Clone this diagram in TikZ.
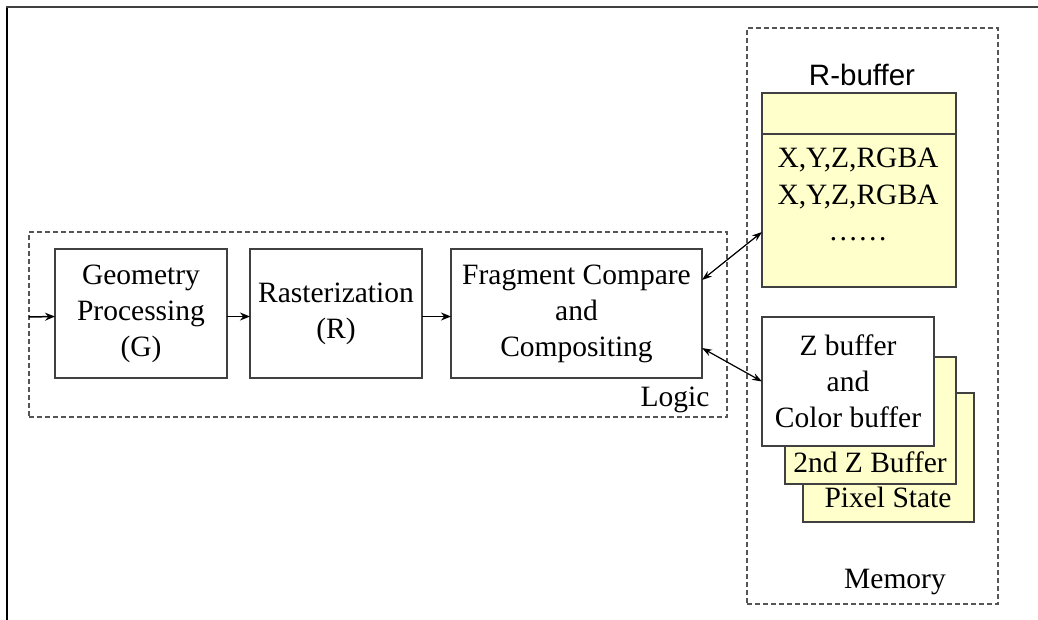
\documentclass[tikz,border=0pt]{standalone}
\usepackage{fontspec}
\setmainfont{Liberation Serif}
\newfontfamily\arialf{Liberation Sans}
\usetikzlibrary{arrows.meta}
\definecolor{boxline}{HTML}{404040}
\definecolor{dashline}{HTML}{555555}
\definecolor{paleyellow}{HTML}{FFFFCC}
\begin{document}
\begin{tikzpicture}[x=1pt,y=-1pt,
  every node/.style={inner sep=0pt, outer sep=0pt},
  txt/.style={font=\fontsize{29.5}{36}\selectfont, align=center},
  blk/.style={draw=boxline, line width=1.4pt, rectangle, txt},
  dbox/.style={draw=dashline, line width=1.2pt, dash pattern=on 5pt off 3pt, rectangle},
  conn/.style={line width=1.5pt, -{Stealth[length=10pt,width=8pt]}},
  bconn/.style={line width=1.2pt, {Stealth[length=10pt,width=7pt]}-{Stealth[length=10pt,width=7pt]}},
]
\useasboundingbox (0,0) rectangle (1038,620);
\fill[white] (0,0) rectangle (1038,620);
% frame
\draw[line width=2.2pt, black] (7,620) -- (7,6);
\draw[line width=1.4pt, boxline] (6,7) -- (1038,7);

% dashed containers
\node[dbox, minimum width=698pt, minimum height=185pt] (logic) at (378,324.5) {};
\node[dbox, minimum width=251pt, minimum height=576pt] (memory) at (872.5,316) {};
\node[txt] (logiclbl) at (675,400) {Logic};
\node[txt] (memlbl) at (895,582) {Memory};

% logic blocks
\node[blk, minimum width=172pt, minimum height=129pt] (geo) at (141,313.5) {Geometry\\Processing\\(G)};
\node[blk, minimum width=172pt, minimum height=129pt] (ras) at (336,313.5) {Rasterization\\(R)};
\node[blk, minimum width=251pt, minimum height=129pt] (frag) at (576.5,313.5) {Fragment Compare\\and\\Compositing};

\coordinate (in0) at (29,317);
\draw[conn] (in0) -- ([yshift=-3pt]geo.west);
\draw[conn] ([yshift=-3pt]geo.east) -- ([yshift=-3pt]ras.west);
\draw[conn] ([yshift=-3pt]ras.east) -- ([yshift=-3pt]frag.west);

% R-buffer
\node[font=\arialf\fontsize{29.5}{36}\selectfont] (rlbl) at (862,75) {R-buffer};
\node[draw=boxline, line width=1.4pt, fill=paleyellow, minimum width=194pt, minimum height=194pt] (rbuf) at (859,190) {};
\draw[boxline, line width=1.4pt] ([yshift=-41pt]rbuf.north west) -- ([yshift=-41pt]rbuf.north east);
\node[txt, anchor=base] (r1) at (858,168) {X,Y,Z,RGBA};
\node[txt, anchor=base] (r2) at (858,205) {X,Y,Z,RGBA};
\node[txt, anchor=base] (r3) at (858,241) {……};

% stacked buffers
\node[draw=boxline, line width=1.4pt, fill=paleyellow, minimum width=171pt, minimum height=129pt] (pix) at (888.5,457.5) {};
\node[txt] (pixlbl) at (888,497) {Pixel State};
\node[draw=boxline, line width=1.4pt, fill=paleyellow, minimum width=171pt, minimum height=127pt] (zb2) at (870.5,420.5) {};
\node[txt] (zb2lbl) at (870,462) {2nd Z Buffer};
\node[blk, fill=white, minimum width=172pt, minimum height=129pt] (zbuf) at (848,381.5) {Z buffer\\and\\Color buffer};

% memory connections
\draw[bconn] ([yshift=33.5pt]frag.east) -- ([yshift=-42pt]rbuf.west);
\draw[bconn] ([yshift=-34.5pt]frag.east) -- (zbuf.west);
\end{tikzpicture}
\end{document}
